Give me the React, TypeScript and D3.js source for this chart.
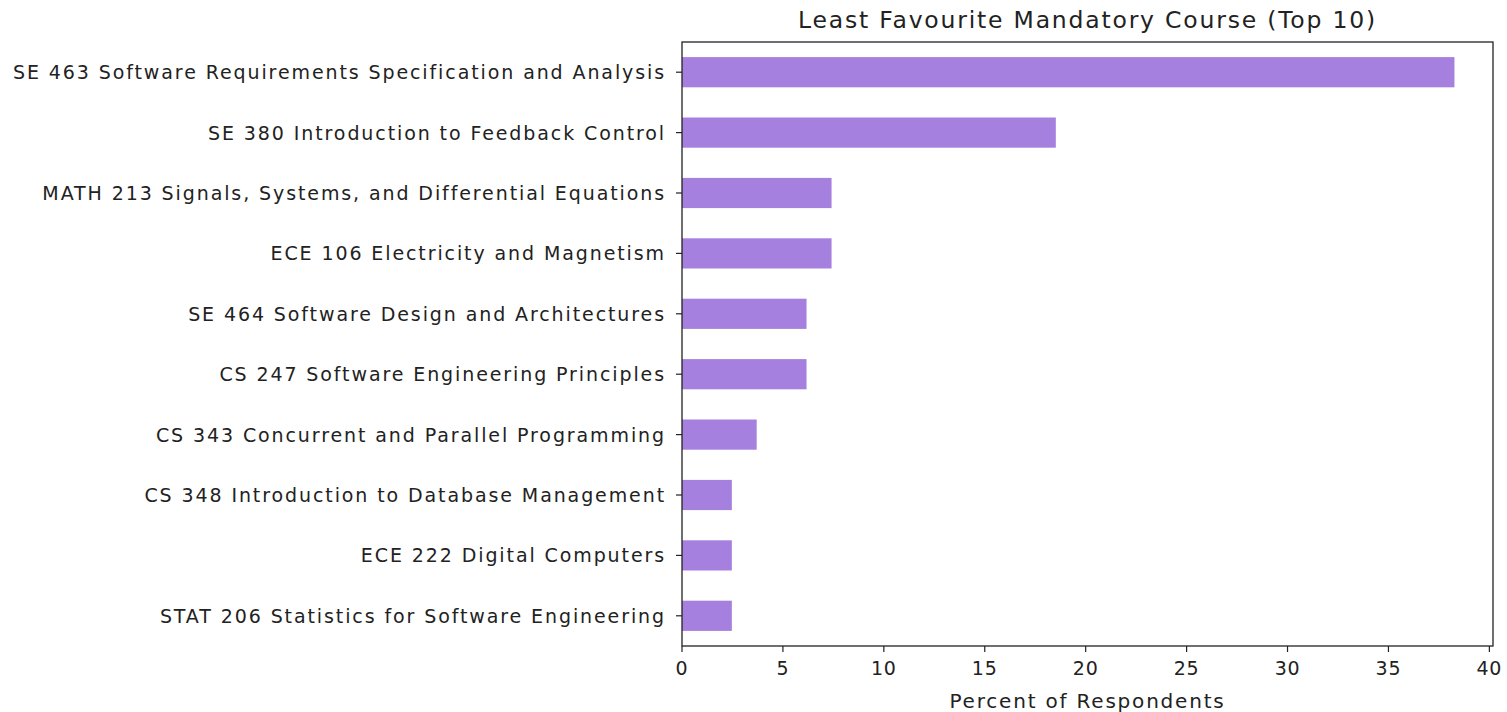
import React from "react";
import * as d3 from "d3";

const courses = [
  "SE 463 Software Requirements Specification and Analysis",
  "SE 380 Introduction to Feedback Control",
  "MATH 213 Signals, Systems, and Differential Equations",
  "ECE 106 Electricity and Magnetism",
  "SE 464 Software Design and Architectures",
  "CS 247 Software Engineering Principles",
  "CS 343 Concurrent and Parallel Programming",
  "CS 348 Introduction to Database Management",
  "ECE 222 Digital Computers",
  "STAT 206 Statistics for Software Engineering",
];
const percents = [38.27, 18.52, 7.41, 7.41, 6.17, 6.17, 3.7, 2.47, 2.47, 2.47];
const xTicks = [0, 5, 10, 15, 20, 25, 30, 35, 40];

const title = "Least Favourite Mandatory Course (Top 10)";
const xLabel = "Percent of Respondents";

export default function App() {
  const W = 1507, H = 712;
  const left = 682, right = 1493, top = 42, bottom = 646;
  const x = d3.scaleLinear().domain([0, 40.18]).range([left, right]);
  const y = d3.scaleBand<string>().domain(courses).range([top, bottom]).paddingInner(0.5).paddingOuter(0.25);
  const font = "'DejaVu Sans', sans-serif";
  const ink = "#222";
  return (
    <svg width={W} height={H} style={{ position: "absolute", left: 0, top: 0, background: "#fff" }} fontFamily={font}>
      <rect x={0} y={0} width={W} height={H} fill="#fff" />
      {courses.map((c, i) => (
        <rect key={c} x={x(0)} y={y(c)!} width={x(percents[i]) - x(0)} height={y.bandwidth()} fill="#a680de" />
      ))}
      <rect x={left} y={top} width={right - left} height={bottom - top} fill="none" stroke={ink} strokeWidth={1.3} />
      {courses.map((c) => {
        const cy = y(c)! + y.bandwidth() / 2;
        return (
          <g key={c}>
            <line x1={left - 6} x2={left} y1={cy} y2={cy} stroke={ink} strokeWidth={1.2} />
            <text x={left - 16} y={cy} textAnchor="end" dominantBaseline="central" fontSize={19} letterSpacing={1.9} fill={ink}>{c}</text>
          </g>
        );
      })}
      {xTicks.map((t) => (
        <g key={t}>
          <line x1={x(t)} x2={x(t)} y1={bottom} y2={bottom + 6} stroke={ink} strokeWidth={1.2} />
          <text x={x(t)} y={668} textAnchor="middle" dominantBaseline="central" fontSize={19} letterSpacing={0.8} fill={ink}>{t}</text>
        </g>
      ))}
      <text x={(left + right) / 2} y={701} textAnchor="middle" dominantBaseline="central" fontSize={20} letterSpacing={1.8} fill={ink}>{xLabel}</text>
      <text x={(left + right) / 2} y={20} textAnchor="middle" dominantBaseline="central" fontSize={23.5} letterSpacing={1.8} fill={ink}>{title}</text>
    </svg>
  );
}
